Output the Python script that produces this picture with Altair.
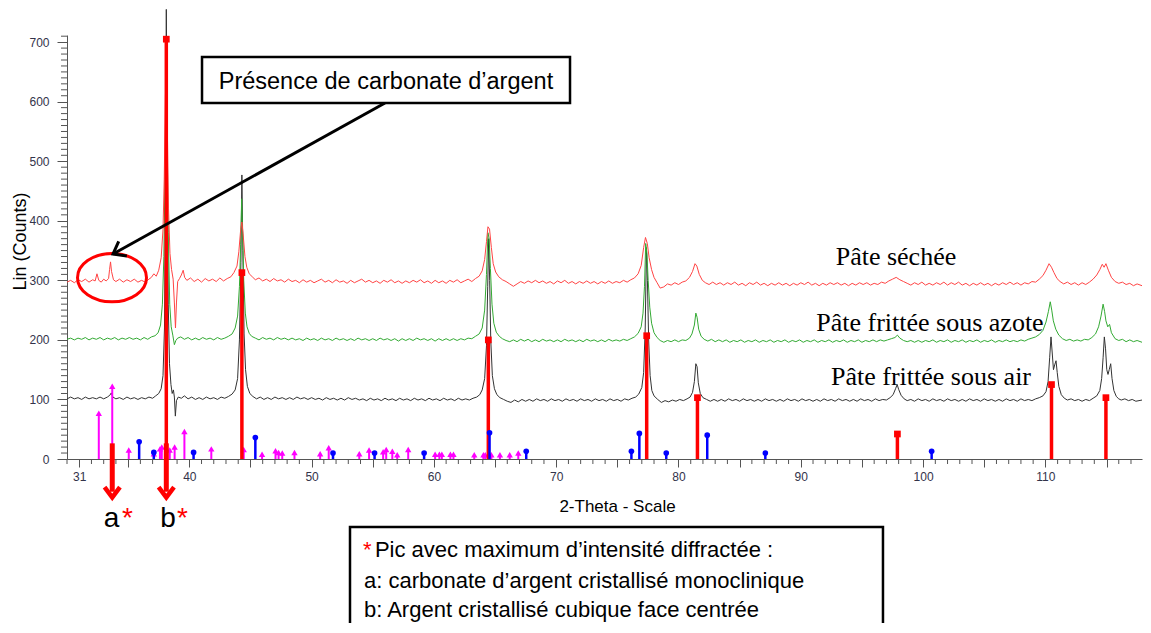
import altair as alt
import pandas as pd

# ---------------- diffraction patterns (2-theta, counts) ----------------
seche = [
    (30.0,297),(30.3,300),(30.6,296),(30.9,301),(31.2,298),(31.5,302),(31.8,297),(32.1,301),(32.3,299),(32.45,311),
    (32.6,300),(32.8,297),(33.0,302),(33.2,299),(33.4,303),(33.48,318),(33.56,331),(33.64,315),(33.8,301),(34.0,298),
    (34.3,302),(34.6,297),(34.9,301),(35.2,298),(35.5,302),(35.8,297),(36.1,300),(36.4,297),(36.7,302),(36.9,305),
    (37.1,311),(37.3,307),(37.5,317),(37.7,338),(37.85,385),(37.95,470),(38.05,610),(38.12,665),(38.2,560),(38.3,420),
    (38.42,345),(38.55,318),(38.68,302),(38.78,262),(38.87,220),(38.95,262),(39.05,298),(39.2,303),(39.35,309),(39.5,317),
    (39.62,305),(39.8,300),(40.1,304),(40.4,298),(40.7,302),(41.0,297),(41.3,303),(41.6,299),(41.9,302),(42.2,298),
    (42.5,304),(42.8,299),(43.1,303),(43.4,306),(43.65,313),(43.9,324),(44.05,348),(44.2,385),(44.3,398),(44.4,378),
    (44.55,340),(44.7,322),(44.9,311),(45.15,306),(45.4,301),(45.7,304),(46.0,299),(46.3,302),(46.6,298),(46.9,303),
    (47.2,299),(47.5,301),(47.8,297),(48.1,302),(48.4,298),(48.7,300),(49.0,296),(49.3,301),(49.6,297),(49.9,300),
    (50.2,296),(50.5,299),(50.8,302),(51.1,297),(51.4,300),(51.7,296),(52.0,301),(52.3,297),(52.6,299),(52.9,295),
    (53.2,300),(53.5,296),(53.8,299),(54.1,302),(54.4,297),(54.7,300),(55.0,296),(55.3,299),(55.6,295),(55.9,300),
    (56.2,297),(56.5,301),(56.8,296),(57.1,299),(57.4,295),(57.7,299),(58.0,296),(58.3,300),(58.6,297),(58.9,301),
    (59.2,296),(59.5,299),(59.8,295),(60.1,300),(60.4,296),(60.7,299),(61.0,295),(61.3,300),(61.6,297),(61.9,301),
    (62.2,296),(62.5,299),(62.8,302),(63.1,298),(63.4,303),(63.7,307),(63.95,316),(64.15,335),(64.3,365),(64.42,390),
    (64.55,386),(64.7,355),(64.85,328),(65.05,314),(65.3,306),(65.6,301),(65.9,298),(66.2,294),(66.5,290),(66.8,294),
    (67.1,298),(67.4,295),(67.7,299),(68.0,296),(68.3,300),(68.6,296),(68.9,299),(69.2,295),(69.5,298),(69.8,294),
    (70.1,299),(70.4,296),(70.7,300),(71.0,295),(71.3,298),(71.6,294),(71.9,298),(72.2,295),(72.5,299),(72.8,295),
    (73.1,298),(73.4,294),(73.7,298),(74.0,295),(74.3,299),(74.6,295),(74.9,298),(75.2,296),(75.5,300),(75.8,297),
    (76.1,301),(76.4,304),(76.7,311),(76.95,325),(77.15,355),(77.3,372),(77.45,362),(77.6,338),(77.8,318),(78.0,305),
    (78.25,296),(78.5,287),(78.8,289),(79.1,294),(79.4,292),(79.7,296),(80.0,293),(80.3,297),(80.6,299),(80.9,305),
    (81.15,315),(81.35,328),(81.5,324),(81.7,310),(81.95,300),(82.2,296),(82.5,293),(82.8,297),(83.1,293),(83.4,296),
    (83.7,292),(84.0,296),(84.3,293),(84.6,297),(84.9,292),(85.2,295),(85.5,291),(85.8,296),(86.1,293),(86.4,297),
    (86.7,292),(87.0,295),(87.3,291),(87.6,295),(87.9,292),(88.2,296),(88.5,292),(88.8,295),(89.1,291),(89.4,295),
    (89.7,292),(90.0,296),(90.3,293),(90.6,297),(90.9,292),(91.2,295),(91.5,291),(91.8,295),(92.1,292),(92.4,296),
    (92.7,293),(93.0,296),(93.3,292),(93.6,295),(93.9,291),(94.2,295),(94.5,292),(94.8,296),(95.1,293),(95.4,296),
    (95.7,292),(96.0,295),(96.3,293),(96.6,297),(96.9,295),(97.2,299),(97.5,302),(97.8,305),(98.1,301),(98.4,298),
    (98.7,295),(99.0,292),(99.3,296),(99.6,293),(99.9,297),(100.2,292),(100.5,295),(100.8,292),(101.1,296),(101.4,293),
    (101.7,297),(102.0,292),(102.3,296),(102.6,293),(102.9,297),(103.2,292),(103.5,295),(103.8,291),(104.1,295),(104.4,292),
    (104.7,296),(105.0,292),(105.3,295),(105.6,291),(105.9,295),(106.2,292),(106.5,296),(106.8,293),(107.1,297),(107.4,293),
    (107.7,296),(108.0,292),(108.3,296),(108.6,294),(108.9,298),(109.2,297),(109.5,302),(109.8,308),(110.05,317),(110.3,328),
    (110.5,322),(110.7,313),(110.95,303),(111.2,298),(111.5,294),(111.8,297),(112.1,293),(112.4,296),(112.7,292),(113.0,296),
    (113.3,293),(113.6,297),(113.9,302),(114.2,309),(114.45,318),(114.65,327),(114.8,322),(114.95,328),(115.15,317),(115.4,305),
    (115.7,298),(116.0,295),(116.3,297),(116.6,293),(116.9,295),(117.2,291),(117.5,294),(117.9,291),
]

azote = [
    (30.0,201),(30.3,203),(30.6,200),(30.9,203),(31.2,201),(31.5,204),(31.8,200),(32.1,203),(32.4,201),(32.7,204),
    (33.0,200),(33.3,203),(33.6,201),(33.9,204),(34.2,200),(34.5,203),(34.8,201),(35.1,204),(35.4,201),(35.7,203),
    (36.0,200),(36.3,204),(36.6,201),(36.9,205),(37.2,207),(37.45,212),(37.65,225),(37.8,260),(37.92,340),(38.02,480),
    (38.1,673),(38.18,560),(38.28,380),(38.4,260),(38.52,222),(38.65,208),(38.78,192),(38.9,199),(39.05,203),(39.3,205),
    (39.6,201),(39.9,204),(40.2,200),(40.5,203),(40.8,200),(41.1,204),(41.4,201),(41.7,203),(42.0,200),(42.3,204),
    (42.6,201),(42.9,203),(43.2,206),(43.5,210),(43.75,220),(43.95,240),(44.1,290),(44.2,360),(44.28,437),(44.36,380),
    (44.45,300),(44.58,245),(44.72,222),(44.9,211),(45.1,206),(45.4,203),(45.7,200),(46.0,204),(46.3,201),(46.6,203),
    (46.9,200),(47.2,204),(47.5,201),(47.8,203),(48.1,200),(48.4,203),(48.7,200),(49.0,202),(49.3,199),(49.6,203),
    (49.9,200),(50.2,202),(50.5,199),(50.8,203),(51.1,200),(51.4,202),(51.7,199),(52.0,203),(52.3,200),(52.6,202),
    (52.9,199),(53.2,202),(53.5,199),(53.8,203),(54.1,200),(54.4,202),(54.7,199),(55.0,202),(55.3,199),(55.6,203),
    (55.9,200),(56.2,202),(56.5,199),(56.8,202),(57.1,198),(57.4,202),(57.7,199),(58.0,202),(58.3,199),(58.6,203),
    (58.9,200),(59.2,202),(59.5,199),(59.8,202),(60.1,198),(60.4,202),(60.7,199),(61.0,202),(61.3,199),(61.6,202),
    (61.9,199),(62.2,202),(62.5,200),(62.8,203),(63.1,202),(63.4,206),(63.7,210),(63.95,220),(64.15,250),(64.3,310),
    (64.42,380),(64.52,370),(64.62,320),(64.75,260),(64.9,228),(65.1,213),(65.35,206),(65.6,202),(65.9,199),(66.2,197),
    (66.5,200),(66.8,197),(67.1,201),(67.4,198),(67.7,201),(68.0,197),(68.3,200),(68.6,197),(68.9,201),(69.2,198),
    (69.5,200),(69.8,197),(70.1,200),(70.4,197),(70.7,201),(71.0,198),(71.3,200),(71.6,197),(71.9,200),(72.2,197),
    (72.5,201),(72.8,198),(73.1,200),(73.4,197),(73.7,200),(74.0,197),(74.3,201),(74.6,198),(74.9,200),(75.2,198),
    (75.5,201),(75.8,199),(76.1,202),(76.4,205),(76.7,211),(76.95,222),(77.1,245),(77.22,290),(77.32,362),(77.42,345),
    (77.52,300),(77.65,255),(77.8,228),(78.0,212),(78.25,204),(78.5,199),(78.8,196),(79.1,199),(79.4,197),(79.7,200),
    (80.0,197),(80.3,200),(80.6,199),(80.9,203),(81.1,210),(81.3,225),(81.42,245),(81.52,238),(81.65,218),(81.85,206),
    (82.1,201),(82.4,198),(82.7,201),(83.0,197),(83.3,200),(83.6,197),(83.9,200),(84.2,196),(84.5,199),(84.8,197),
    (85.1,200),(85.4,196),(85.7,199),(86.0,197),(86.3,200),(86.6,196),(86.9,199),(87.2,197),(87.5,200),(87.8,196),
    (88.1,199),(88.4,197),(88.7,200),(89.0,196),(89.3,199),(89.6,197),(89.9,200),(90.2,196),(90.5,199),(90.8,197),
    (91.1,200),(91.4,196),(91.7,199),(92.0,197),(92.3,200),(92.6,196),(92.9,199),(93.2,197),(93.5,200),(93.8,196),
    (94.1,199),(94.4,197),(94.7,200),(95.0,196),(95.3,199),(95.6,197),(95.9,200),(96.2,197),(96.5,200),(96.8,198),
    (97.1,200),(97.4,202),(97.7,204),(97.9,208),(98.1,203),(98.4,199),(98.7,197),(99.0,199),(99.3,196),(99.6,199),
    (99.9,196),(100.2,199),(100.5,197),(100.8,200),(101.1,196),(101.4,199),(101.7,197),(102.0,200),(102.3,196),(102.6,199),
    (102.9,197),(103.2,200),(103.5,196),(103.8,199),(104.1,197),(104.4,200),(104.7,196),(105.0,199),(105.3,197),(105.6,200),
    (105.9,196),(106.2,199),(106.5,197),(106.8,200),(107.1,197),(107.4,199),(107.7,197),(108.0,200),(108.3,198),(108.6,201),
    (108.9,203),(109.2,205),(109.5,209),(109.8,216),(110.05,230),(110.25,248),(110.4,264),(110.52,250),(110.65,232),(110.85,218),
    (111.1,208),(111.4,202),(111.7,199),(112.0,201),(112.3,198),(112.6,200),(112.9,198),(113.2,201),(113.5,200),(113.8,204),
    (114.1,210),(114.35,222),(114.55,240),(114.72,260),(114.84,248),(114.95,232),(115.1,222),(115.25,226),(115.4,212),(115.7,202),
    (116.0,199),(116.3,201),(116.6,197),(116.9,200),(117.2,197),(117.5,199),(117.9,196),
]

air = [
    (30.0,101),(30.3,104),(30.6,101),(30.9,103),(31.2,100),(31.5,104),(31.8,101),(32.1,103),(32.4,101),(32.7,104),
    (33.0,101),(33.3,104),(33.5,107),(33.62,111),(33.75,104),(34.0,101),(34.3,103),(34.6,100),(34.9,104),(35.2,101),
    (35.5,103),(35.8,100),(36.1,103),(36.4,101),(36.7,104),(37.0,102),(37.25,106),(37.5,110),(37.7,118),(37.85,140),
    (37.97,220),(38.05,450),(38.12,755),(38.2,500),(38.28,260),(38.38,160),(38.5,125),(38.6,110),(38.7,116),(38.78,104),
    (38.86,72),(38.95,98),(39.1,104),(39.35,102),(39.6,106),(39.9,101),(40.2,104),(40.5,100),(40.8,103),(41.1,100),
    (41.4,104),(41.7,101),(42.0,103),(42.3,100),(42.6,104),(42.9,102),(43.2,105),(43.5,109),(43.75,116),(43.95,135),
    (44.1,200),(44.22,330),(44.3,477),(44.38,350),(44.48,210),(44.6,150),(44.75,122),(44.95,110),(45.2,105),(45.5,101),
    (45.8,104),(46.1,100),(46.4,103),(46.7,100),(47.0,104),(47.3,101),(47.6,103),(47.9,100),(48.2,103),(48.5,100),
    (48.8,104),(49.1,101),(49.4,103),(49.7,100),(50.0,103),(50.3,100),(50.6,102),(50.9,99),(51.2,103),(51.5,100),
    (51.8,102),(52.1,99),(52.4,102),(52.7,99),(53.0,103),(53.3,100),(53.6,102),(53.9,99),(54.2,101),(54.5,98),
    (54.8,102),(55.1,99),(55.4,101),(55.7,98),(56.0,102),(56.3,99),(56.6,101),(56.9,98),(57.2,102),(57.5,99),
    (57.8,101),(58.1,98),(58.4,102),(58.7,99),(59.0,101),(59.3,98),(59.6,102),(59.9,99),(60.2,101),(60.5,98),
    (60.8,102),(61.1,99),(61.4,101),(61.7,98),(62.0,102),(62.3,99),(62.6,101),(62.9,99),(63.2,102),(63.5,104),
    (63.75,108),(63.95,116),(64.15,135),(64.3,190),(64.4,290),(64.48,370),(64.56,300),(64.65,200),(64.78,140),(64.95,118),
    (65.15,108),(65.4,103),(65.7,100),(66.0,97),(66.3,95),(66.6,99),(66.9,96),(67.2,100),(67.5,97),(67.8,100),
    (68.1,97),(68.4,101),(68.7,98),(69.0,100),(69.3,97),(69.6,101),(69.9,98),(70.2,100),(70.5,97),(70.8,101),
    (71.1,98),(71.4,100),(71.7,97),(72.0,101),(72.3,98),(72.6,100),(72.9,97),(73.2,101),(73.5,98),(73.8,100),
    (74.1,97),(74.4,101),(74.7,98),(75.0,100),(75.3,97),(75.6,101),(75.9,99),(76.2,102),(76.5,104),(76.75,109),
    (77.0,120),(77.15,145),(77.28,220),(77.38,355),(77.46,300),(77.56,200),(77.68,140),(77.82,115),(78.0,106),(78.3,100),
    (78.6,95),(78.9,98),(79.2,96),(79.5,99),(79.8,97),(80.1,100),(80.4,98),(80.7,101),(80.95,104),(81.15,112),
    (81.3,130),(81.42,160),(81.52,155),(81.62,128),(81.78,110),(82.0,103),(82.3,100),(82.6,97),(82.9,100),(83.2,97),
    (83.5,100),(83.8,97),(84.1,101),(84.4,98),(84.7,100),(85.0,97),(85.3,101),(85.6,98),(85.9,100),(86.2,97),
    (86.5,100),(86.8,97),(87.1,101),(87.4,98),(87.7,100),(88.0,97),(88.3,100),(88.6,97),(88.9,101),(89.2,98),
    (89.5,100),(89.8,97),(90.1,101),(90.4,98),(90.7,100),(91.0,97),(91.3,100),(91.6,97),(91.9,101),(92.2,98),
    (92.5,100),(92.8,97),(93.1,101),(93.4,98),(93.7,100),(94.0,97),(94.3,100),(94.6,97),(94.9,101),(95.2,98),
    (95.5,100),(95.8,97),(96.1,101),(96.4,98),(96.7,100),(97.0,99),(97.3,103),(97.55,108),(97.75,118),(97.88,125),
    (98.0,117),(98.2,107),(98.45,101),(98.7,98),(99.0,100),(99.3,97),(99.6,101),(99.9,98),(100.2,100),(100.5,97),
    (100.8,101),(101.1,98),(101.4,100),(101.7,97),(102.0,101),(102.3,98),(102.6,100),(102.9,97),(103.2,100),(103.5,97),
    (103.8,101),(104.1,98),(104.4,100),(104.7,97),(105.0,101),(105.3,98),(105.6,100),(105.9,97),(106.2,100),(106.5,97),
    (106.8,101),(107.1,98),(107.4,100),(107.7,97),(108.0,101),(108.3,98),(108.6,100),(108.9,98),(109.2,101),(109.5,103),
    (109.8,106),(110.05,113),(110.22,130),(110.35,170),(110.46,205),(110.56,178),(110.66,150),(110.76,158),(110.87,165),(110.97,145),
    (111.1,122),(111.3,108),(111.55,102),(111.8,99),(112.1,101),(112.4,98),(112.7,100),(113.0,97),(113.3,100),(113.6,98),
    (113.9,102),(114.2,106),(114.45,115),(114.6,135),(114.72,170),(114.82,205),(114.92,185),(115.02,150),(115.12,142),(115.22,150),
    (115.34,160),(115.45,135),(115.6,115),(115.8,105),(116.0,101),(116.2,99),(116.5,101),(116.8,98),(117.1,100),(117.4,97),
    (117.9,99),
]

# ---------------- reference sticks ----------------
ag_pos = [38.12, 44.3, 64.45, 77.4, 81.55, 97.9, 110.5, 114.95]
ag_int = [705, 313, 200, 207, 103, 42, 125, 103]

carb_pos = [32.6, 33.7, 35.05, 37.1, 37.6, 37.75, 38.4, 38.8, 39.6, 41.8, 44.45, 45.95, 47.05, 47.3, 47.6,
            48.6, 50.7, 51.4, 53.9, 54.7, 55.85, 56.1, 56.6, 57.0, 57.9, 60.1, 60.45, 60.65, 61.35, 61.6,
            63.3, 64.05, 64.2, 64.7, 65.4, 66.2, 66.9]
carb_int = [77, 122, 15, 9, 17, 20, 15, 20, 46, 17, 16, 8, 14, 11, 10,
            11, 9, 19, 9, 15, 12, 16, 13, 7, 16, 8, 8, 8, 8, 8,
            7, 7, 7, 7, 7, 7, 10]

other_pos = [35.9, 37.1, 40.35, 45.4, 51.75, 55.15, 59.2, 64.55, 67.55, 76.15, 76.8, 79.0, 82.35, 87.1, 100.7]
other_int = [29, 11, 11, 36, 10, 10, 10, 44, 13, 13, 43, 10, 40, 10, 13]

series_names = ["Pâte séchée", "Pâte frittée sous azote", "Pâte frittée sous air"]
series_colors = ["#ff4444", "#33aa33", "#333333"]

# axis ticks
x_major = [31] + list(range(35, 118, 5))
x_minor = [v for v in range(30, 118) if v not in x_major]
y_major = list(range(0, 701, 100))
y_minor = [v for v in range(10, 711, 10) if v % 100 != 0]

XS = alt.Scale(domain=[30, 117.9], nice=False, zero=False)
YS = alt.Scale(domain=[0, 712], nice=False, zero=False)
AXIS_GREY = "#555555"

X_AXIS = alt.Axis(
    values=x_major,
    labelExpr="(datum.value == 31 || datum.value % 10 == 0) ? datum.label : ''",
    labelOverlap=False,
    tickSize=8,
    labelPadding=4,
    title="2-Theta - Scale",
    titleFont="Liberation Sans",
    titleFontSize=17,
    titleFontWeight="normal",
    titleColor="#000000",
    titleX=550,
    titleY=47,
    titleBaseline="middle",
    titleAlign="center",
)
Y_AXIS = alt.Axis(
    values=y_major,
    labelOverlap=False,
    tickSize=10,
    labelPadding=8,
    title="Lin (Counts)",
    titleFont="Liberation Sans",
    titleFontSize=18,
    titleFontWeight="normal",
    titleColor="#000000",
    titleX=-42,
    titleY=206,
    titleAngle=270,
    titleAlign="center",
    titleBaseline="alphabetic",
)


def xq(f="x"):
    return alt.X(f"{f}:Q", scale=XS, axis=X_AXIS)


def yq(f="y"):
    return alt.Y(f"{f}:Q", scale=YS, axis=Y_AXIS)


def df_pts(pts):
    return pd.DataFrame(pts, columns=["x", "y"])


layers = []

# patterns (black first, then green, then red)
for pts, col in [(air, series_colors[2]), (azote, series_colors[1]), (seche, series_colors[0])]:
    layers.append(
        alt.Chart(df_pts(pts)).mark_line(color=col, strokeWidth=1, clip=False).encode(x=xq(), y=yq())
    )

# minor ticks on both axes
xm = pd.DataFrame({"x": x_minor, "y": [0] * len(x_minor), "y2": [-8.4] * len(x_minor)})
layers.append(alt.Chart(xm).mark_rule(color=AXIS_GREY, strokeWidth=1).encode(x=xq(), y=yq(), y2="y2:Q"))
ym = pd.DataFrame({"y": y_minor, "x": [30] * len(y_minor), "x2": [29.51] * len(y_minor)})
layers.append(alt.Chart(ym).mark_rule(color=AXIS_GREY, strokeWidth=1).encode(x=xq(), x2="x2:Q", y=yq()))

# sticks
ag_df = pd.DataFrame({"x": ag_pos, "y": ag_int, "y0": [0] * len(ag_pos)})
carb_df = pd.DataFrame({"x": carb_pos, "y": carb_int, "y0": [0] * len(carb_pos)})
oth_df = pd.DataFrame({"x": other_pos, "y": other_int, "y0": [0] * len(other_pos)})

layers.append(alt.Chart(carb_df).mark_rule(color="#ff00ff", strokeWidth=2).encode(x=xq(), y=yq("y0"), y2="y:Q"))
layers.append(alt.Chart(carb_df).mark_point(shape="triangle-up", filled=True, color="#ff00ff", size=40, opacity=1).encode(x=xq(), y=yq()))
layers.append(alt.Chart(ag_df).mark_rule(color="#ff0000", strokeWidth=3.5).encode(x=xq(), y=yq("y0"), y2="y:Q"))
layers.append(alt.Chart(ag_df).mark_square(color="#ff0000", size=45, opacity=1).encode(x=xq(), y=yq()))
layers.append(alt.Chart(oth_df).mark_rule(color="#0000ff", strokeWidth=2.5).encode(x=xq(), y=yq("y0"), y2="y:Q"))
layers.append(alt.Chart(oth_df).mark_circle(color="#0000ff", size=32, opacity=1).encode(x=xq(), y=yq()))

# ---------------- annotations (data coordinates) ----------------
ell = pd.DataFrame({"x": [33.68], "y": [304.5]})
layers.append(
    alt.Chart(ell).mark_point(
        shape="M-1,0 A1,0.7 0 1,1 1,0 A1,0.7 0 1,1 -1,0 Z",
        size=4760, filled=False, stroke="#ff0000", strokeWidth=3, opacity=1,
    ).encode(x=xq(), y=yq())
)

arr = pd.DataFrame({"x": [56.0], "y": [597.8], "x2": [33.76], "y2": [344.2]})
layers.append(alt.Chart(arr).mark_rule(color="#000000", strokeWidth=3).encode(x=xq(), y=yq(), x2="x2:Q", y2="y2:Q"))
tip = pd.DataFrame({"x": [33.76], "y": [344.2]})
layers.append(
    alt.Chart(tip).mark_point(
        shape="M-0.75,-1 L0,0 L0.75,-1", size=500, angle=61, filled=False,
        stroke="#000000", strokeWidth=3, opacity=1,
    ).encode(x=xq(), y=yq())
)

box1 = pd.DataFrame({"x": [41.04], "x2": [71.13], "y": [675.1], "y2": [597.8]})
layers.append(alt.Chart(box1).mark_rect(fill="#ffffff", stroke="#000000", strokeWidth=2.5).encode(x=xq(), x2="x2:Q", y=yq(), y2="y2:Q"))
t1 = pd.DataFrame({"x": [56.08], "y": [621.3], "t": ["Présence de carbonate d’argent"]})
layers.append(alt.Chart(t1).mark_text(font="Liberation Sans", fontSize=23.5, color="#000000", align="center", baseline="alphabetic").encode(x=xq(), y=yq(), text="t:N"))

lab = pd.DataFrame({"x": [97.78, 100.56, 100.65], "y": [339.2, 228.4, 137.7], "t": series_names})
layers.append(alt.Chart(lab).mark_text(font="Liberation Serif", fontSize=26, color="#000000", align="center", baseline="middle").encode(x=xq(), y=yq(), text="t:N"))

rarr = pd.DataFrame({"x": [33.7, 38.12], "y": [26.3, 26.3], "y2": [-55.0, -55.0]})
layers.append(alt.Chart(rarr).mark_rule(color="#ff0000", strokeWidth=5).encode(x=xq(), y=yq(), y2="y2:Q"))
rtip = pd.DataFrame({"x": [33.7, 38.12], "y": [-64.5, -64.5]})
layers.append(
    alt.Chart(rtip).mark_point(
        shape="M-0.75,-1 L0,0 L0.75,-1", size=420, filled=False,
        stroke="#ff0000", strokeWidth=4.5, opacity=1,
    ).encode(x=xq(), y=yq())
)
ab = pd.DataFrame({"x": [33.64, 38.26], "y": [-114.2, -114.2], "t": ["a", "b"]})
layers.append(alt.Chart(ab).mark_text(font="Liberation Sans", fontSize=28, color="#000000", align="center", baseline="alphabetic").encode(x=xq(), y=yq(), text="t:N"))
stars = pd.DataFrame({"x": [34.5, 38.99], "y": [-114.2, -114.2], "t": ["*", "*"]})
layers.append(alt.Chart(stars).mark_text(font="Liberation Sans", fontSize=28, color="#ff0000", align="left", baseline="alphabetic").encode(x=xq(), y=yq(), text="t:N"))

box2 = pd.DataFrame({"x": [53.14], "x2": [96.72], "y": [-114.2], "y2": [-340.0]})
layers.append(alt.Chart(box2).mark_rect(fill="#ffffff", stroke="#000000", strokeWidth=2.5).encode(x=xq(), x2="x2:Q", y=yq(), y2="y2:Q"))
star1 = pd.DataFrame({"x": [54.2], "y": [-164.5], "t": ["*"]})
layers.append(alt.Chart(star1).mark_text(font="Liberation Sans", fontSize=22, color="#ff0000", align="left", baseline="alphabetic").encode(x=xq(), y=yq(), text="t:N"))
lines = pd.DataFrame({
    "x": [55.18, 54.28, 54.28],
    "y": [-164.5, -216.6, -265.3],
    "t": ["Pic avec maximum d’intensité diffractée :",
          "a: carbonate d’argent cristallisé monoclinique",
          "b: Argent cristallisé cubique face centrée"],
})
layers.append(alt.Chart(lines).mark_text(font="Liberation Sans", fontSize=22, color="#000000", align="left", baseline="alphabetic").encode(x=xq(), y=yq(), text="t:N"))

chart = alt.layer(*layers).properties(
    width=1075,
    height=424,
    autosize=alt.AutoSizeParams(type="none"),
    padding={"left": 59, "top": 27, "right": 1, "bottom": 164},
).configure_view(stroke=None).configure_axis(
    grid=False,
    domainColor=AXIS_GREY,
    tickColor=AXIS_GREY,
    labelColor="#33334a",
    labelFont="Liberation Sans",
    labelFontSize=12,
)

chart.save("out.html", embed_options={"renderer": "svg", "actions": False})
